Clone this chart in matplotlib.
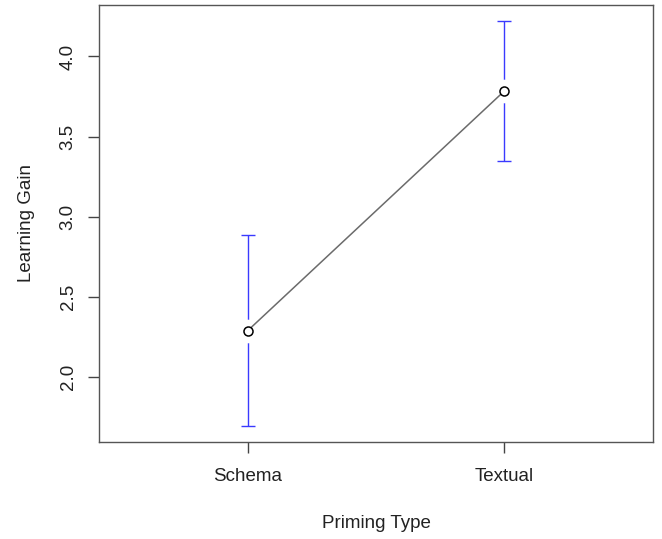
import matplotlib
matplotlib.use("Agg")
import matplotlib.pyplot as plt

# group means and error half-widths
priming_types = ["Schema", "Textual"]
gain_means = [2.291, 3.784]
gain_err = [0.595, 0.437]
y_ticks = [2.0, 2.5, 3.0, 3.5, 4.0]

plt.rcParams['font.family'] = ['Liberation Sans', 'DejaVu Sans']

fig = plt.figure(figsize=(6.62, 5.39), dpi=100)
ax = fig.add_axes([0.1495, 0.180, 0.8369, 0.8108])

xs = [1, 2]

# error bars (blue) with a gap round the point, like R's plotCI
ax.errorbar(xs, gain_means, yerr=gain_err, fmt='none', ecolor='#3a3aff',
            elinewidth=1.0, capsize=4.7, capthick=1.0, zorder=2)
# white disc hides the bar near the point
ax.plot(xs, gain_means, 'o', ms=17, mfc='white', mec='none', zorder=3)
# connecting line and open points
ax.plot(xs, gain_means, '-', color='#6b6b6b', lw=1.1, zorder=4)
ax.plot(xs, gain_means, 'o', ms=6.5, mfc='white', mec='black', mew=1.1, zorder=5)

ax.set_xlim(0.42, 2.58)
ax.set_ylim(1.597, 4.321)
ax.set_xticks(xs)
ax.set_xticklabels(priming_types)
ax.set_yticks(y_ticks)
ax.set_yticklabels([f"{v:.1f}" for v in y_ticks], rotation=90, va='center')

for side in ax.spines.values():
    side.set_color('#555555')
    side.set_linewidth(1.0)
ax.tick_params(axis='both', length=8, width=1.0, color='#444444',
               labelsize=13.5, labelcolor='#222222')
ax.tick_params(axis='x', pad=11)
ax.tick_params(axis='y', pad=8)

ax.set_xlabel("Priming Type", fontsize=13.5, color='#222222', labelpad=21)
ax.set_ylabel("Learning Gain", fontsize=13.5, color='#222222', labelpad=18)

fig.savefig("out.png", dpi=100)
